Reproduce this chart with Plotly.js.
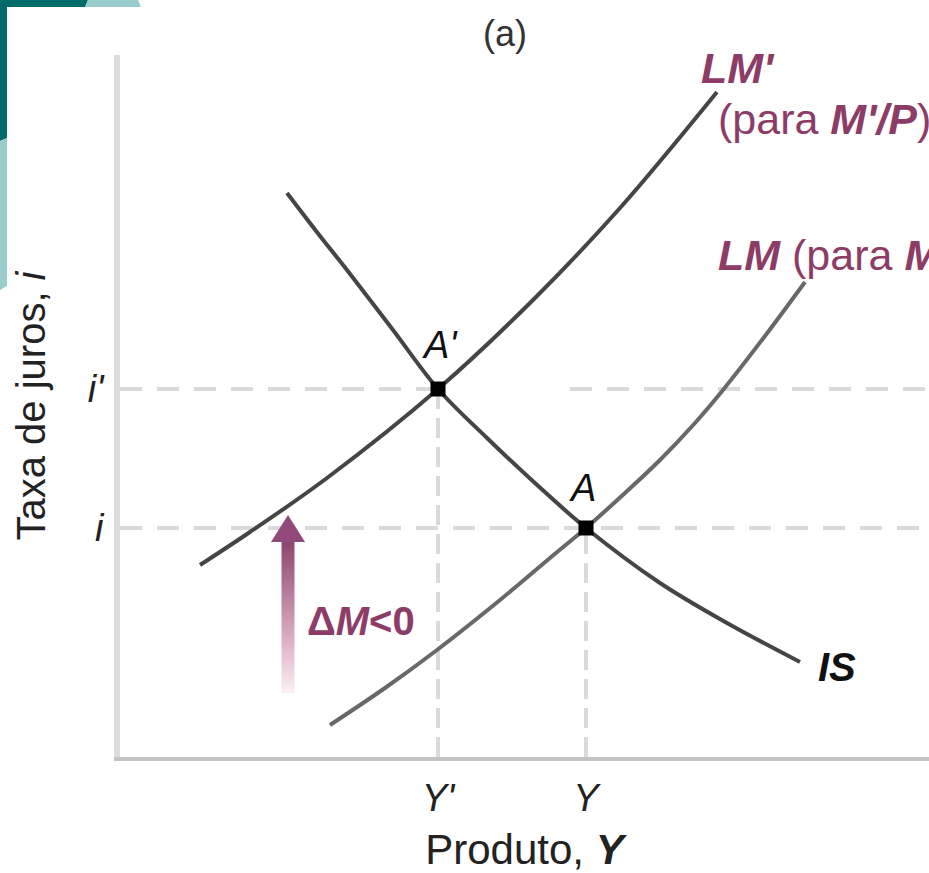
<!DOCTYPE html>
<html>
<head>
<meta charset="utf-8">
<script src="https://cdn.plot.ly/plotly-3.0.1.min.js"></script>
<style>
  html, body { margin: 0; padding: 0; background: #ffffff; }
  #chart { width: 929px; height: 873px; }
</style>
</head>
<body>
<div id="chart"></div>
<script>
// ---- Data (units: x = output, y = interest rate) ----
const isX = [167, 200, 227, 273, 318, 367, 416, 466, 540, 607, 680];
const isY = [564, 521, 487, 427, 368, 319, 273, 229, 174, 134, 95];

const lmPrimeX = [80, 130, 207, 318, 413, 500, 597];
const lmPrimeY = [192, 225, 279, 368, 457, 549, 665];

const lmX = [210, 265, 317, 380, 430, 466, 505, 540, 575, 603, 645, 685];
const lmY = [32, 69, 107, 157, 199, 229, 264, 297, 334, 367, 421, 475];

const eqNames = ["A'", "A"];
const eqX = [318, 466];          // Y', Y
const eqY = [368, 229];          // i', i

const xTickVals = [318, 466];
const xTickText = ["<i>Y'</i>", "<i>Y</i>"];
const yTickVals = [368, 229];
const yTickText = ["<i>i'</i>", "<i>i</i>"];

// arrow (ΔM<0): centre x, bottom, head base, tip
const arrowX = 168;
const arrowBottom = 64;
const arrowHeadBase = 215;
const arrowTip = 242;

const xMax = 809, yMax = 702;

// ---- Styles ----
const FONT = "Liberation Sans, Arial, Helvetica, sans-serif";
const MAUVE = "#8c3c66";
const DARK = "#454545";
const GRAY = "#686868";
const DASH = "#dadada";

// plot geometry (pixels) for decoration shapes outside the plot
const M = {l: 120, r: 0, t: 55, b: 116};
const W = 929, H = 873;
const pw = W - M.l - M.r, ph = H - M.t - M.b;
const px = x => (x - M.l) / pw;
const py = y => (H - M.b - y) / ph;
function pathPx(pts) {
  return pts.map((p, i) => (i ? 'L' : 'M') + px(p[0]).toFixed(5) + ',' + py(p[1]).toFixed(5)).join(' ') + ' Z';
}

// ---- Traces ----
const shaftW = 6.5, headW = 17;
const traces = [
  { x: lmPrimeX, y: lmPrimeY, mode: 'lines', line: {color: DARK, width: 4, shape: 'spline', smoothing: 1}, hoverinfo: 'skip' },
  { x: lmX, y: lmY, mode: 'lines', line: {color: GRAY, width: 4, shape: 'spline', smoothing: 1}, hoverinfo: 'skip' },
  { x: isX, y: isY, mode: 'lines', line: {color: DARK, width: 4, shape: 'spline', smoothing: 1}, hoverinfo: 'skip' },
  // arrow shaft with vertical gradient
  { x: [arrowX - shaftW, arrowX + shaftW, arrowX + shaftW, arrowX - shaftW, arrowX - shaftW],
    y: [arrowBottom, arrowBottom, arrowHeadBase + 1, arrowHeadBase + 1, arrowBottom],
    mode: 'lines', line: {width: 0}, fill: 'toself',
    fillgradient: {type: 'vertical', start: arrowBottom, stop: arrowHeadBase,
      colorscale: [[0, '#fbf0f5'], [0.35, '#dcb0c6'], [1, '#8e4470']]},
    hoverinfo: 'skip' },
  // arrow head
  { x: [arrowX - headW, arrowX + headW, arrowX, arrowX - headW],
    y: [arrowHeadBase, arrowHeadBase, arrowTip, arrowHeadBase],
    mode: 'lines', line: {width: 0}, fill: 'toself', fillcolor: '#92497a', hoverinfo: 'skip' },
  // equilibrium points
  { x: eqX, y: eqY, mode: 'markers', marker: {symbol: 'square', size: 15, color: '#000'}, hoverinfo: 'skip' }
];

// ---- Shapes: dashed guide lines + decoration ----
const dashH = {color: DASH, width: 4, dash: '22px,15px'};
const dashV = {color: DASH, width: 4, dash: '20px,9px'};
const shapes = [
  {type: 'line', xref: 'x', yref: 'y', x0: 0, x1: eqX[0], y0: eqY[0], y1: eqY[0], line: dashH, layer: 'below'},
  {type: 'line', xref: 'x', yref: 'y', x0: 450, x1: xMax, y0: eqY[0], y1: eqY[0], line: dashH, layer: 'below'},
  {type: 'line', xref: 'x', yref: 'y', x0: 0, x1: xMax, y0: eqY[1], y1: eqY[1], line: dashH, layer: 'below'},
  {type: 'line', xref: 'x', yref: 'y', x0: eqX[0], x1: eqX[0], y0: 0, y1: eqY[0], line: dashV, layer: 'below'},
  {type: 'line', xref: 'x', yref: 'y', x0: eqX[1], x1: eqX[1], y0: 0, y1: eqY[1], line: dashV, layer: 'below'},
  // teal corner decoration
  {type: 'path', xref: 'paper', yref: 'paper', path: pathPx([[0,0],[88,0],[85,7],[0,7]]), fillcolor: '#006b68', line: {width: 0}},
  {type: 'path', xref: 'paper', yref: 'paper', path: pathPx([[0,0],[7,0],[7,138],[0,141]]), fillcolor: '#006b68', line: {width: 0}},
  {type: 'path', xref: 'paper', yref: 'paper', path: pathPx([[88,0],[138,0],[141,7],[85,7]]), fillcolor: '#99cccc', line: {width: 0}},
  {type: 'path', xref: 'paper', yref: 'paper', path: pathPx([[0,141],[7,138],[7,286],[0,290]]), fillcolor: '#99cccc', line: {width: 0}}
];

// ---- Annotations (curve labels) ----
const ann = (x, y, text, opts) => Object.assign({x, y, xref: 'x', yref: 'y', text, showarrow: false,
  font: {family: FONT, size: 43, color: MAUVE}}, opts || {});
const annotations = [
  ann(579, 689, "<b><i>LM'</i></b>", {xanchor: 'left'}),
  ann(596, 638, "(para <b><i>M'/P</i></b>)", {xanchor: 'left'}),
  ann(596, 502, "<b><i>LM</i></b> (para <b><i>M/P</i></b>)", {xanchor: 'left'}),
  ann(eqX[0] + 2, eqY[0] + 44, "<i>" + eqNames[0] + "</i>", {font: {family: FONT, size: 38, color: '#111'}}),
  ann(eqX[1] - 4, eqY[1] + 40, "<i>" + eqNames[1] + "</i>", {font: {family: FONT, size: 38, color: '#111'}}),
  ann(717, 90, "<b><i>IS</i></b>", {font: {family: FONT, size: 40, color: '#111'}}),
  ann(241, 136, "<b>Δ<i>M</i>&lt;0</b>", {font: {family: FONT, size: 40, color: MAUVE}})
];

const layout = {
  width: W, height: H,
  margin: M,
  paper_bgcolor: '#ffffff', plot_bgcolor: '#ffffff',
  showlegend: false,
  font: {family: FONT, color: '#222'},
  title: {text: '(a)', font: {family: FONT, size: 36, color: '#333'},
          x: 505 / W, xref: 'container', xanchor: 'center', y: 1 - 33 / H, yref: 'container', yanchor: 'middle'},
  xaxis: {range: [0, xMax], showgrid: false, zeroline: false,
          showline: true, linecolor: '#c4c4c4', linewidth: 4,
          tickvals: xTickVals, ticktext: xTickText, ticks: '', ticklabelstandoff: 4,
          tickfont: {family: FONT, size: 38, color: '#222'},
          title: {text: 'Produto, <b><i>Y</i></b>', font: {family: FONT, size: 42, color: '#222'}, standoff: 24},
          fixedrange: true},
  yaxis: {range: [0, yMax], showgrid: false, zeroline: false,
          showline: true, linecolor: '#dcdcdc', linewidth: 6,
          tickvals: yTickVals, ticktext: yTickText, ticks: '', ticklabelstandoff: 3,
          tickfont: {family: FONT, size: 38, color: '#222'},
          title: {text: 'Taxa de juros, <i>i</i>', font: {family: FONT, size: 40, color: '#222'}, standoff: 32},
          fixedrange: true},
  shapes, annotations
};

Plotly.newPlot('chart', traces, layout, {displayModeBar: false, staticPlot: true});
</script>
</body>
</html>
